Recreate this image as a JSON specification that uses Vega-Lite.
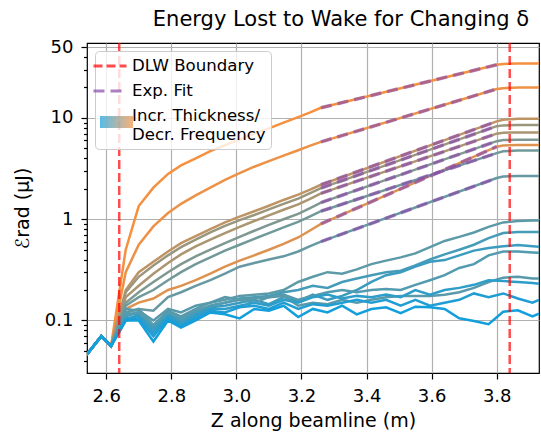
{
"$schema": "https://vega.github.io/schema/vega-lite/v6.json",
"width": 452, "height": 330,
"autosize": {"type": "none"},
"padding": {"left": 87, "top": 43, "right": 2, "bottom": 60},
"background": "white",
"title": {"text": "Energy Lost to Wake for Changing δ", "fontSize": 21, "font": "DejaVu Sans", "fontWeight": "normal", "color": "black", "frame": "group", "anchor": "middle", "offset": 8, "dx": 28},
"config": {
  "view": {"stroke": "black", "strokeWidth": 1.2},
  "font": "DejaVu Sans",
  "axis": {"labelFont": "DejaVu Sans", "titleFont": "DejaVu Sans", "labelColor": "black", "titleColor": "black", "tickColor": "black", "domain": false, "gridColor": "#b0b0b0", "gridWidth": 1.2, "labelFontSize": 18, "titleFontSize": 19, "titleFontWeight": "normal", "tickWidth": 1.2}
},
"datasets": {
"series": [
{"s":"L1","t":1.0},{"s":"L2","t":0.96},{"s":"B1","t":0.76},{"s":"B2","t":0.6},{"s":"B3","t":0.68},{"s":"B4","t":0.48},{"s":"B5","t":0.9},{"s":"B6","t":0.42},{"s":"B7","t":0.37},
{"s":"b1","t":0.33},{"s":"b2","t":0.23},{"s":"b3","t":0.18},{"s":"b4","t":0.28},{"s":"b5","t":0.31},{"s":"b6","t":0.12},{"s":"b7","t":0.06},{"s":"b8","t":0.0}
],
"fits": [
{"s":"L1","x":3.26,"y":12.6,"k":"Exp. Fit"},{"s":"L1","x":3.80,"y":33.5,"k":"Exp. Fit"},
{"s":"L2","x":3.26,"y":5.8,"k":"Exp. Fit"},{"s":"L2","x":3.80,"y":19.3,"k":"Exp. Fit"},
{"s":"B1","x":3.26,"y":2.19,"k":"Exp. Fit"},{"s":"B1","x":3.80,"y":9.25,"k":"Exp. Fit"},
{"s":"B2","x":3.26,"y":2.03,"k":"Exp. Fit"},{"s":"B2","x":3.80,"y":8.3,"k":"Exp. Fit"},
{"s":"B3","x":3.26,"y":1.8,"k":"Exp. Fit"},{"s":"B3","x":3.80,"y":7.0,"k":"Exp. Fit"},
{"s":"B4","x":3.26,"y":1.46,"k":"Exp. Fit"},{"s":"B4","x":3.80,"y":5.9,"k":"Exp. Fit"},
{"s":"B5","x":3.26,"y":0.9,"k":"Exp. Fit"},{"s":"B5","x":3.80,"y":5.2,"k":"Exp. Fit"},
{"s":"B6","x":3.26,"y":1.2,"k":"Exp. Fit"},{"s":"B6","x":3.80,"y":4.5,"k":"Exp. Fit"},
{"s":"B7","x":3.26,"y":0.6,"k":"Exp. Fit"},{"s":"B7","x":3.80,"y":2.55,"k":"Exp. Fit"}
],
"bounds": [{"x":2.64,"k":"DLW Boundary"},{"x":3.84,"k":"DLW Boundary"}],
"lines": [
{"s":"L1","x":2.54,"y":0.046},{"s":"L1","x":2.585,"y":0.07},{"s":"L1","x":2.615,"y":0.056},{"s":"L1","x":2.66,"y":0.5},{"s":"L1","x":2.70,"y":1.35},{"s":"L1","x":2.745,"y":2.05},{"s":"L1","x":2.79,"y":2.8},{"s":"L1","x":2.83,"y":3.4},{"s":"L1","x":2.875,"y":4.0},{"s":"L1","x":2.92,"y":4.7},{"s":"L1","x":2.965,"y":5.4},{"s":"L1","x":3.01,"y":6.1},{"s":"L1","x":3.055,"y":7.0},{"s":"L1","x":3.10,"y":7.9},{"s":"L1","x":3.145,"y":9.0},{"s":"L1","x":3.19,"y":10.2},{"s":"L1","x":3.225,"y":11.3},{"s":"L1","x":3.26,"y":12.6},{"s":"L1","x":3.80,"y":33.5},{"s":"L1","x":3.82,"y":34.1},{"s":"L1","x":3.865,"y":34.5},{"s":"L1","x":3.91,"y":34.6},{"s":"L1","x":3.93,"y":34.6},
{"s":"L2","x":2.54,"y":0.046},{"s":"L2","x":2.585,"y":0.07},{"s":"L2","x":2.615,"y":0.056},{"s":"L2","x":2.66,"y":0.3},{"s":"L2","x":2.70,"y":0.56},{"s":"L2","x":2.745,"y":0.85},{"s":"L2","x":2.79,"y":1.15},{"s":"L2","x":2.83,"y":1.42},{"s":"L2","x":2.875,"y":1.72},{"s":"L2","x":2.92,"y":2.05},{"s":"L2","x":2.965,"y":2.45},{"s":"L2","x":3.01,"y":2.85},{"s":"L2","x":3.055,"y":3.3},{"s":"L2","x":3.10,"y":3.75},{"s":"L2","x":3.145,"y":4.25},{"s":"L2","x":3.19,"y":4.8},{"s":"L2","x":3.225,"y":5.3},{"s":"L2","x":3.26,"y":5.8},{"s":"L2","x":3.80,"y":19.3},{"s":"L2","x":3.82,"y":19.7},{"s":"L2","x":3.865,"y":20.0},{"s":"L2","x":3.91,"y":20.0},{"s":"L2","x":3.93,"y":20.0},
{"s":"B1","x":2.54,"y":0.046},{"s":"B1","x":2.585,"y":0.07},{"s":"B1","x":2.615,"y":0.056},{"s":"B1","x":2.66,"y":0.2},{"s":"B1","x":2.70,"y":0.3},{"s":"B1","x":2.745,"y":0.38},{"s":"B1","x":2.79,"y":0.48},{"s":"B1","x":2.83,"y":0.58},{"s":"B1","x":2.875,"y":0.68},{"s":"B1","x":2.92,"y":0.8},{"s":"B1","x":2.965,"y":0.93},{"s":"B1","x":3.01,"y":1.06},{"s":"B1","x":3.055,"y":1.2},{"s":"B1","x":3.10,"y":1.36},{"s":"B1","x":3.145,"y":1.55},{"s":"B1","x":3.19,"y":1.75},{"s":"B1","x":3.225,"y":1.95},{"s":"B1","x":3.26,"y":2.19},{"s":"B1","x":3.80,"y":9.25},{"s":"B1","x":3.82,"y":9.6},{"s":"B1","x":3.865,"y":9.8},{"s":"B1","x":3.91,"y":9.8},{"s":"B1","x":3.93,"y":9.8},
{"s":"B2","x":2.54,"y":0.046},{"s":"B2","x":2.585,"y":0.07},{"s":"B2","x":2.615,"y":0.056},{"s":"B2","x":2.66,"y":0.19},{"s":"B2","x":2.70,"y":0.27},{"s":"B2","x":2.745,"y":0.35},{"s":"B2","x":2.79,"y":0.44},{"s":"B2","x":2.83,"y":0.53},{"s":"B2","x":2.875,"y":0.63},{"s":"B2","x":2.92,"y":0.74},{"s":"B2","x":2.965,"y":0.86},{"s":"B2","x":3.01,"y":0.98},{"s":"B2","x":3.055,"y":1.1},{"s":"B2","x":3.10,"y":1.25},{"s":"B2","x":3.145,"y":1.42},{"s":"B2","x":3.19,"y":1.6},{"s":"B2","x":3.225,"y":1.8},{"s":"B2","x":3.26,"y":2.03},{"s":"B2","x":3.80,"y":8.3},{"s":"B2","x":3.82,"y":8.45},{"s":"B2","x":3.865,"y":8.5},{"s":"B2","x":3.91,"y":8.5},{"s":"B2","x":3.93,"y":8.5},
{"s":"B3","x":2.54,"y":0.046},{"s":"B3","x":2.585,"y":0.07},{"s":"B3","x":2.615,"y":0.056},{"s":"B3","x":2.66,"y":0.17},{"s":"B3","x":2.70,"y":0.22},{"s":"B3","x":2.745,"y":0.29},{"s":"B3","x":2.79,"y":0.37},{"s":"B3","x":2.83,"y":0.45},{"s":"B3","x":2.875,"y":0.54},{"s":"B3","x":2.92,"y":0.63},{"s":"B3","x":2.965,"y":0.73},{"s":"B3","x":3.01,"y":0.84},{"s":"B3","x":3.055,"y":0.96},{"s":"B3","x":3.10,"y":1.09},{"s":"B3","x":3.145,"y":1.24},{"s":"B3","x":3.19,"y":1.4},{"s":"B3","x":3.225,"y":1.58},{"s":"B3","x":3.26,"y":1.8},{"s":"B3","x":3.80,"y":7.0},{"s":"B3","x":3.82,"y":7.15},{"s":"B3","x":3.865,"y":7.2},{"s":"B3","x":3.91,"y":7.2},{"s":"B3","x":3.93,"y":7.2},
{"s":"B4","x":2.54,"y":0.046},{"s":"B4","x":2.585,"y":0.07},{"s":"B4","x":2.615,"y":0.056},{"s":"B4","x":2.66,"y":0.15},{"s":"B4","x":2.70,"y":0.19},{"s":"B4","x":2.745,"y":0.24},{"s":"B4","x":2.79,"y":0.3},{"s":"B4","x":2.83,"y":0.36},{"s":"B4","x":2.875,"y":0.43},{"s":"B4","x":2.92,"y":0.5},{"s":"B4","x":2.965,"y":0.58},{"s":"B4","x":3.01,"y":0.67},{"s":"B4","x":3.055,"y":0.77},{"s":"B4","x":3.10,"y":0.88},{"s":"B4","x":3.145,"y":1.0},{"s":"B4","x":3.19,"y":1.13},{"s":"B4","x":3.225,"y":1.28},{"s":"B4","x":3.26,"y":1.46},{"s":"B4","x":3.80,"y":5.9},{"s":"B4","x":3.82,"y":6.05},{"s":"B4","x":3.865,"y":6.1},{"s":"B4","x":3.91,"y":6.1},{"s":"B4","x":3.93,"y":6.1},
{"s":"B5","x":2.54,"y":0.046},{"s":"B5","x":2.585,"y":0.07},{"s":"B5","x":2.615,"y":0.056},{"s":"B5","x":2.66,"y":0.13},{"s":"B5","x":2.70,"y":0.15},{"s":"B5","x":2.745,"y":0.165},{"s":"B5","x":2.79,"y":0.2},{"s":"B5","x":2.83,"y":0.22},{"s":"B5","x":2.875,"y":0.25},{"s":"B5","x":2.92,"y":0.29},{"s":"B5","x":2.965,"y":0.34},{"s":"B5","x":3.01,"y":0.39},{"s":"B5","x":3.055,"y":0.44},{"s":"B5","x":3.10,"y":0.5},{"s":"B5","x":3.145,"y":0.57},{"s":"B5","x":3.19,"y":0.66},{"s":"B5","x":3.225,"y":0.77},{"s":"B5","x":3.26,"y":0.9},{"s":"B5","x":3.80,"y":5.2},{"s":"B5","x":3.82,"y":5.35},{"s":"B5","x":3.865,"y":5.4},{"s":"B5","x":3.91,"y":5.4},{"s":"B5","x":3.93,"y":5.4},
{"s":"B6","x":2.54,"y":0.046},{"s":"B6","x":2.585,"y":0.07},{"s":"B6","x":2.615,"y":0.056},{"s":"B6","x":2.66,"y":0.14},{"s":"B6","x":2.70,"y":0.17},{"s":"B6","x":2.745,"y":0.2},{"s":"B6","x":2.79,"y":0.25},{"s":"B6","x":2.83,"y":0.3},{"s":"B6","x":2.875,"y":0.36},{"s":"B6","x":2.92,"y":0.42},{"s":"B6","x":2.965,"y":0.49},{"s":"B6","x":3.01,"y":0.56},{"s":"B6","x":3.055,"y":0.64},{"s":"B6","x":3.10,"y":0.73},{"s":"B6","x":3.145,"y":0.83},{"s":"B6","x":3.19,"y":0.94},{"s":"B6","x":3.225,"y":1.06},{"s":"B6","x":3.26,"y":1.2},{"s":"B6","x":3.80,"y":4.5},{"s":"B6","x":3.82,"y":4.68},{"s":"B6","x":3.865,"y":4.77},{"s":"B6","x":3.91,"y":4.77},{"s":"B6","x":3.93,"y":4.77},
{"s":"B7","x":2.54,"y":0.046},{"s":"B7","x":2.585,"y":0.07},{"s":"B7","x":2.615,"y":0.056},{"s":"B7","x":2.66,"y":0.12},{"s":"B7","x":2.70,"y":0.13},{"s":"B7","x":2.745,"y":0.125},{"s":"B7","x":2.79,"y":0.17},{"s":"B7","x":2.83,"y":0.19},{"s":"B7","x":2.875,"y":0.22},{"s":"B7","x":2.92,"y":0.25},{"s":"B7","x":2.965,"y":0.29},{"s":"B7","x":3.01,"y":0.34},{"s":"B7","x":3.055,"y":0.37},{"s":"B7","x":3.10,"y":0.40},{"s":"B7","x":3.145,"y":0.43},{"s":"B7","x":3.19,"y":0.48},{"s":"B7","x":3.225,"y":0.54},{"s":"B7","x":3.26,"y":0.6},{"s":"B7","x":3.80,"y":2.55},{"s":"B7","x":3.82,"y":2.64},{"s":"B7","x":3.865,"y":2.68},{"s":"B7","x":3.91,"y":2.68},{"s":"B7","x":3.93,"y":2.68},
{"s":"b1","x":2.54,"y":0.046},{"s":"b1","x":2.585,"y":0.07},{"s":"b1","x":2.615,"y":0.056},{"s":"b1","x":2.66,"y":0.12},{"s":"b1","x":2.70,"y":0.13},{"s":"b1","x":2.745,"y":0.09},{"s":"b1","x":2.79,"y":0.125},{"s":"b1","x":2.83,"y":0.11},{"s":"b1","x":2.875,"y":0.13},{"s":"b1","x":2.92,"y":0.15},{"s":"b1","x":2.965,"y":0.16},{"s":"b1","x":3.01,"y":0.175},{"s":"b1","x":3.055,"y":0.18},{"s":"b1","x":3.10,"y":0.185},{"s":"b1","x":3.145,"y":0.2},{"s":"b1","x":3.19,"y":0.24},{"s":"b1","x":3.235,"y":0.27},{"s":"b1","x":3.28,"y":0.3},{"s":"b1","x":3.325,"y":0.29},{"s":"b1","x":3.37,"y":0.32},{"s":"b1","x":3.415,"y":0.36},{"s":"b1","x":3.46,"y":0.39},{"s":"b1","x":3.505,"y":0.42},{"s":"b1","x":3.55,"y":0.46},{"s":"b1","x":3.595,"y":0.53},{"s":"b1","x":3.64,"y":0.61},{"s":"b1","x":3.685,"y":0.67},{"s":"b1","x":3.73,"y":0.74},{"s":"b1","x":3.775,"y":0.84},{"s":"b1","x":3.82,"y":0.93},{"s":"b1","x":3.865,"y":0.96},{"s":"b1","x":3.91,"y":0.97},{"s":"b1","x":3.93,"y":0.97},
{"s":"b2","x":2.54,"y":0.046},{"s":"b2","x":2.585,"y":0.07},{"s":"b2","x":2.615,"y":0.056},{"s":"b2","x":2.66,"y":0.11},{"s":"b2","x":2.70,"y":0.12},{"s":"b2","x":2.745,"y":0.085},{"s":"b2","x":2.79,"y":0.12},{"s":"b2","x":2.83,"y":0.1},{"s":"b2","x":2.875,"y":0.12},{"s":"b2","x":2.92,"y":0.14},{"s":"b2","x":2.965,"y":0.15},{"s":"b2","x":3.01,"y":0.165},{"s":"b2","x":3.055,"y":0.17},{"s":"b2","x":3.10,"y":0.175},{"s":"b2","x":3.145,"y":0.19},{"s":"b2","x":3.19,"y":0.2},{"s":"b2","x":3.235,"y":0.22},{"s":"b2","x":3.28,"y":0.21},{"s":"b2","x":3.325,"y":0.24},{"s":"b2","x":3.37,"y":0.26},{"s":"b2","x":3.415,"y":0.28},{"s":"b2","x":3.46,"y":0.3},{"s":"b2","x":3.505,"y":0.31},{"s":"b2","x":3.55,"y":0.35},{"s":"b2","x":3.595,"y":0.4},{"s":"b2","x":3.64,"y":0.45},{"s":"b2","x":3.685,"y":0.5},{"s":"b2","x":3.73,"y":0.56},{"s":"b2","x":3.775,"y":0.65},{"s":"b2","x":3.82,"y":0.73},{"s":"b2","x":3.865,"y":0.75},{"s":"b2","x":3.91,"y":0.75},{"s":"b2","x":3.93,"y":0.75},
{"s":"b3","x":2.54,"y":0.046},{"s":"b3","x":2.585,"y":0.07},{"s":"b3","x":2.615,"y":0.056},{"s":"b3","x":2.66,"y":0.1},{"s":"b3","x":2.70,"y":0.115},{"s":"b3","x":2.745,"y":0.08},{"s":"b3","x":2.79,"y":0.115},{"s":"b3","x":2.83,"y":0.095},{"s":"b3","x":2.875,"y":0.115},{"s":"b3","x":2.92,"y":0.135},{"s":"b3","x":2.965,"y":0.14},{"s":"b3","x":3.01,"y":0.15},{"s":"b3","x":3.055,"y":0.16},{"s":"b3","x":3.10,"y":0.145},{"s":"b3","x":3.145,"y":0.17},{"s":"b3","x":3.19,"y":0.155},{"s":"b3","x":3.235,"y":0.18},{"s":"b3","x":3.28,"y":0.16},{"s":"b3","x":3.325,"y":0.175},{"s":"b3","x":3.37,"y":0.2},{"s":"b3","x":3.415,"y":0.24},{"s":"b3","x":3.46,"y":0.28},{"s":"b3","x":3.505,"y":0.3},{"s":"b3","x":3.55,"y":0.34},{"s":"b3","x":3.595,"y":0.38},{"s":"b3","x":3.64,"y":0.395},{"s":"b3","x":3.685,"y":0.44},{"s":"b3","x":3.73,"y":0.49},{"s":"b3","x":3.775,"y":0.52},{"s":"b3","x":3.82,"y":0.54},{"s":"b3","x":3.865,"y":0.555},{"s":"b3","x":3.91,"y":0.54},{"s":"b3","x":3.93,"y":0.535},
{"s":"b4","x":2.54,"y":0.046},{"s":"b4","x":2.585,"y":0.07},{"s":"b4","x":2.615,"y":0.056},{"s":"b4","x":2.66,"y":0.115},{"s":"b4","x":2.70,"y":0.12},{"s":"b4","x":2.745,"y":0.09},{"s":"b4","x":2.79,"y":0.12},{"s":"b4","x":2.83,"y":0.105},{"s":"b4","x":2.875,"y":0.125},{"s":"b4","x":2.92,"y":0.14},{"s":"b4","x":2.965,"y":0.15},{"s":"b4","x":3.01,"y":0.16},{"s":"b4","x":3.055,"y":0.15},{"s":"b4","x":3.10,"y":0.17},{"s":"b4","x":3.145,"y":0.18},{"s":"b4","x":3.19,"y":0.16},{"s":"b4","x":3.235,"y":0.175},{"s":"b4","x":3.28,"y":0.19},{"s":"b4","x":3.325,"y":0.2},{"s":"b4","x":3.37,"y":0.19},{"s":"b4","x":3.415,"y":0.2},{"s":"b4","x":3.46,"y":0.205},{"s":"b4","x":3.505,"y":0.2},{"s":"b4","x":3.55,"y":0.225},{"s":"b4","x":3.595,"y":0.25},{"s":"b4","x":3.64,"y":0.28},{"s":"b4","x":3.685,"y":0.33},{"s":"b4","x":3.73,"y":0.36},{"s":"b4","x":3.775,"y":0.44},{"s":"b4","x":3.82,"y":0.48},{"s":"b4","x":3.865,"y":0.48},{"s":"b4","x":3.91,"y":0.47},{"s":"b4","x":3.93,"y":0.467},
{"s":"b5","x":2.54,"y":0.046},{"s":"b5","x":2.585,"y":0.07},{"s":"b5","x":2.615,"y":0.056},{"s":"b5","x":2.66,"y":0.13},{"s":"b5","x":2.70,"y":0.125},{"s":"b5","x":2.745,"y":0.1},{"s":"b5","x":2.79,"y":0.13},{"s":"b5","x":2.83,"y":0.12},{"s":"b5","x":2.875,"y":0.14},{"s":"b5","x":2.92,"y":0.15},{"s":"b5","x":2.965,"y":0.17},{"s":"b5","x":3.01,"y":0.16},{"s":"b5","x":3.055,"y":0.165},{"s":"b5","x":3.10,"y":0.17},{"s":"b5","x":3.145,"y":0.175},{"s":"b5","x":3.19,"y":0.14},{"s":"b5","x":3.235,"y":0.15},{"s":"b5","x":3.28,"y":0.145},{"s":"b5","x":3.325,"y":0.16},{"s":"b5","x":3.37,"y":0.15},{"s":"b5","x":3.415,"y":0.16},{"s":"b5","x":3.46,"y":0.17},{"s":"b5","x":3.505,"y":0.175},{"s":"b5","x":3.55,"y":0.175},{"s":"b5","x":3.595,"y":0.175},{"s":"b5","x":3.64,"y":0.18},{"s":"b5","x":3.685,"y":0.19},{"s":"b5","x":3.73,"y":0.21},{"s":"b5","x":3.775,"y":0.24},{"s":"b5","x":3.82,"y":0.265},{"s":"b5","x":3.865,"y":0.27},{"s":"b5","x":3.91,"y":0.26},{"s":"b5","x":3.93,"y":0.26},
{"s":"b6","x":2.54,"y":0.046},{"s":"b6","x":2.585,"y":0.07},{"s":"b6","x":2.615,"y":0.056},{"s":"b6","x":2.66,"y":0.105},{"s":"b6","x":2.70,"y":0.11},{"s":"b6","x":2.745,"y":0.075},{"s":"b6","x":2.79,"y":0.11},{"s":"b6","x":2.83,"y":0.09},{"s":"b6","x":2.875,"y":0.11},{"s":"b6","x":2.92,"y":0.13},{"s":"b6","x":2.965,"y":0.13},{"s":"b6","x":3.01,"y":0.14},{"s":"b6","x":3.055,"y":0.15},{"s":"b6","x":3.10,"y":0.14},{"s":"b6","x":3.145,"y":0.16},{"s":"b6","x":3.19,"y":0.15},{"s":"b6","x":3.235,"y":0.17},{"s":"b6","x":3.28,"y":0.18},{"s":"b6","x":3.325,"y":0.165},{"s":"b6","x":3.37,"y":0.175},{"s":"b6","x":3.415,"y":0.17},{"s":"b6","x":3.46,"y":0.18},{"s":"b6","x":3.505,"y":0.17},{"s":"b6","x":3.55,"y":0.2},{"s":"b6","x":3.595,"y":0.18},{"s":"b6","x":3.64,"y":0.2},{"s":"b6","x":3.685,"y":0.21},{"s":"b6","x":3.73,"y":0.225},{"s":"b6","x":3.775,"y":0.25},{"s":"b6","x":3.82,"y":0.245},{"s":"b6","x":3.865,"y":0.24},{"s":"b6","x":3.91,"y":0.235},{"s":"b6","x":3.93,"y":0.23},
{"s":"b7","x":2.54,"y":0.046},{"s":"b7","x":2.585,"y":0.07},{"s":"b7","x":2.615,"y":0.056},{"s":"b7","x":2.66,"y":0.1},{"s":"b7","x":2.70,"y":0.105},{"s":"b7","x":2.745,"y":0.07},{"s":"b7","x":2.79,"y":0.105},{"s":"b7","x":2.83,"y":0.088},{"s":"b7","x":2.875,"y":0.105},{"s":"b7","x":2.92,"y":0.125},{"s":"b7","x":2.965,"y":0.12},{"s":"b7","x":3.01,"y":0.135},{"s":"b7","x":3.055,"y":0.14},{"s":"b7","x":3.10,"y":0.13},{"s":"b7","x":3.145,"y":0.15},{"s":"b7","x":3.19,"y":0.13},{"s":"b7","x":3.235,"y":0.145},{"s":"b7","x":3.28,"y":0.14},{"s":"b7","x":3.325,"y":0.15},{"s":"b7","x":3.37,"y":0.16},{"s":"b7","x":3.415,"y":0.15},{"s":"b7","x":3.46,"y":0.16},{"s":"b7","x":3.505,"y":0.14},{"s":"b7","x":3.55,"y":0.16},{"s":"b7","x":3.595,"y":0.14},{"s":"b7","x":3.64,"y":0.15},{"s":"b7","x":3.685,"y":0.16},{"s":"b7","x":3.73,"y":0.185},{"s":"b7","x":3.775,"y":0.17},{"s":"b7","x":3.82,"y":0.185},{"s":"b7","x":3.865,"y":0.165},{"s":"b7","x":3.91,"y":0.15},{"s":"b7","x":3.93,"y":0.16},
{"s":"b8","x":2.54,"y":0.046},{"s":"b8","x":2.585,"y":0.07},{"s":"b8","x":2.615,"y":0.056},{"s":"b8","x":2.66,"y":0.1},{"s":"b8","x":2.70,"y":0.1},{"s":"b8","x":2.745,"y":0.062},{"s":"b8","x":2.79,"y":0.1},{"s":"b8","x":2.83,"y":0.085},{"s":"b8","x":2.875,"y":0.1},{"s":"b8","x":2.92,"y":0.12},{"s":"b8","x":2.965,"y":0.115},{"s":"b8","x":3.01,"y":0.105},{"s":"b8","x":3.055,"y":0.13},{"s":"b8","x":3.10,"y":0.125},{"s":"b8","x":3.145,"y":0.14},{"s":"b8","x":3.19,"y":0.108},{"s":"b8","x":3.235,"y":0.13},{"s":"b8","x":3.28,"y":0.12},{"s":"b8","x":3.325,"y":0.14},{"s":"b8","x":3.37,"y":0.115},{"s":"b8","x":3.415,"y":0.13},{"s":"b8","x":3.46,"y":0.135},{"s":"b8","x":3.505,"y":0.118},{"s":"b8","x":3.55,"y":0.137},{"s":"b8","x":3.595,"y":0.135},{"s":"b8","x":3.64,"y":0.13},{"s":"b8","x":3.685,"y":0.105},{"s":"b8","x":3.73,"y":0.099},{"s":"b8","x":3.775,"y":0.092},{"s":"b8","x":3.82,"y":0.122},{"s":"b8","x":3.865,"y":0.126},{"s":"b8","x":3.91,"y":0.11},{"s":"b8","x":3.93,"y":0.117}
]
},
"layer": [
{
  "data": {"name": "lines"},
  "transform": [{"lookup": "s", "from": {"data": {"name": "series"}, "key": "s", "fields": ["t"]}}],
  "mark": {"type": "line", "strokeWidth": 2.5, "clip": true},
  "encoding": {
    "x": {"field": "x", "type": "quantitative", "title": "Z along beamline (m)",
      "scale": {"domain": [2.541, 3.93], "nice": false, "zero": false},
      "axis": {"values": [2.6, 2.8, 3.0, 3.2, 3.4, 3.6, 3.8], "format": ".1f", "tickSize": 6, "labelPadding": 8, "titlePadding": 6, "grid": true}},
    "y": {"field": "y", "type": "quantitative", "title": "ℰrad (μJ)",
      "scale": {"type": "log", "domain": [0.0303, 55], "nice": false},
      "axis": {"values": [0.04,0.05,0.06,0.07,0.08,0.09,0.1,0.2,0.3,0.4,0.5,0.6,0.7,0.8,0.9,1,2,3,4,5,6,7,8,9,10,20,30,40,50],
        "labelExpr": "datum.value == 0.1 ? '0.1' : datum.value == 1 ? '1' : datum.value == 10 ? '10' : datum.value == 50 ? '50' : ''",
        "labelOverlap": false, "labelPadding": 8, "titlePadding": 12,
        "tickSize": {"condition": {"test": "datum.value == 0.1 || datum.value == 1 || datum.value == 10 || datum.value == 50", "value": 6}, "value": 3.5},
        "gridOpacity": {"condition": {"test": "datum.value == 0.1 || datum.value == 1 || datum.value == 10 || datum.value == 50", "value": 1}, "value": 0}}},
    "color": {"field": "t", "type": "quantitative", "scale": {"range": ["#129fdc", "#f5903f"], "interpolate": "rgb", "domain": [0, 1]}, "legend": null},
    "detail": {"field": "s", "type": "nominal"}
  }
},
{
  "layer": [
    {
      "data": {"name": "fits"},
      "mark": {"type": "line", "strokeWidth": 3.5, "opacity": 0.65, "clip": true},
      "encoding": {
        "x": {"field": "x", "type": "quantitative", "title": "Z along beamline (m)"},
        "y": {"field": "y", "type": "quantitative", "title": "ℰrad (μJ)"},
        "detail": {"field": "s", "type": "nominal"},
        "strokeDash": {"field": "k", "type": "nominal",
          "scale": {"domain": ["DLW Boundary", "Exp. Fit", "Incr. Thickness/Decr. Frequency"], "range": [[9, 4], [11, 6], [1, 0]]},
          "legend": {"title": null, "orient": "top-left", "offset": 8, "padding": 5, "fillColor": "rgba(255,255,255,0.8)", "strokeColor": "#cccccc", "cornerRadius": 4,
            "labelFont": "DejaVu Sans", "labelFontSize": 16.6, "labelColor": "black", "labelOffset": 12, "labelLimit": 400, "rowPadding": 6, "symbolSize": 272,
            "symbolType": "M-2,0H2", "symbolStrokeWidth": 3, "symbolOpacity": 0.65,
            "labelExpr": "datum.value === 'Incr. Thickness/Decr. Frequency' ? ['Incr. Thickness/', 'Decr. Frequency'] : datum.label"}},
        "color": {"field": "k", "type": "nominal",
          "scale": {"domain": ["DLW Boundary", "Exp. Fit", "Incr. Thickness/Decr. Frequency"], "range": ["#ff0000", "#8a4aa8", "transparent"]},
          "legend": {"title": null, "orient": "top-left", "offset": 8, "padding": 5, "fillColor": "rgba(255,255,255,0.8)", "strokeColor": "#cccccc", "cornerRadius": 4,
            "labelFont": "DejaVu Sans", "labelFontSize": 16.6, "labelColor": "black", "labelOffset": 12, "labelLimit": 400, "rowPadding": 6, "symbolSize": 272,
            "symbolType": "M-2,0H2", "symbolStrokeWidth": 3, "symbolOpacity": 0.65,
            "labelExpr": "datum.value === 'Incr. Thickness/Decr. Frequency' ? ['Incr. Thickness/', 'Decr. Frequency'] : datum.label"}}
      }
    },
    {
      "data": {"name": "bounds"},
      "mark": {"type": "rule", "strokeWidth": 2.5, "opacity": 0.7},
      "encoding": {
        "x": {"field": "x", "type": "quantitative", "title": "Z along beamline (m)"},
        "strokeDash": {"field": "k", "type": "nominal"},
        "color": {"field": "k", "type": "nominal"}
      }
    }
  ]
},
{
  "data": {"name": "series"},
  "mark": {"type": "point", "size": 0, "strokeWidth": 0, "filled": true},
  "encoding": {
    "color": {"field": "t", "type": "quantitative", "scale": {"range": ["#129fdc", "#f5903f"], "interpolate": "rgb", "domain": [0, 1]},
      "legend": {"orient": "none", "legendX": 13, "legendY": 73, "direction": "horizontal", "gradientLength": 33, "gradientThickness": 12, "gradientStrokeWidth": 0, "labelOpacity": 0, "labelFontSize": 1, "title": null, "padding": 0}}
  }
}
],
"resolve": {"scale": {"color": "independent", "strokeDash": "independent"}}
}
